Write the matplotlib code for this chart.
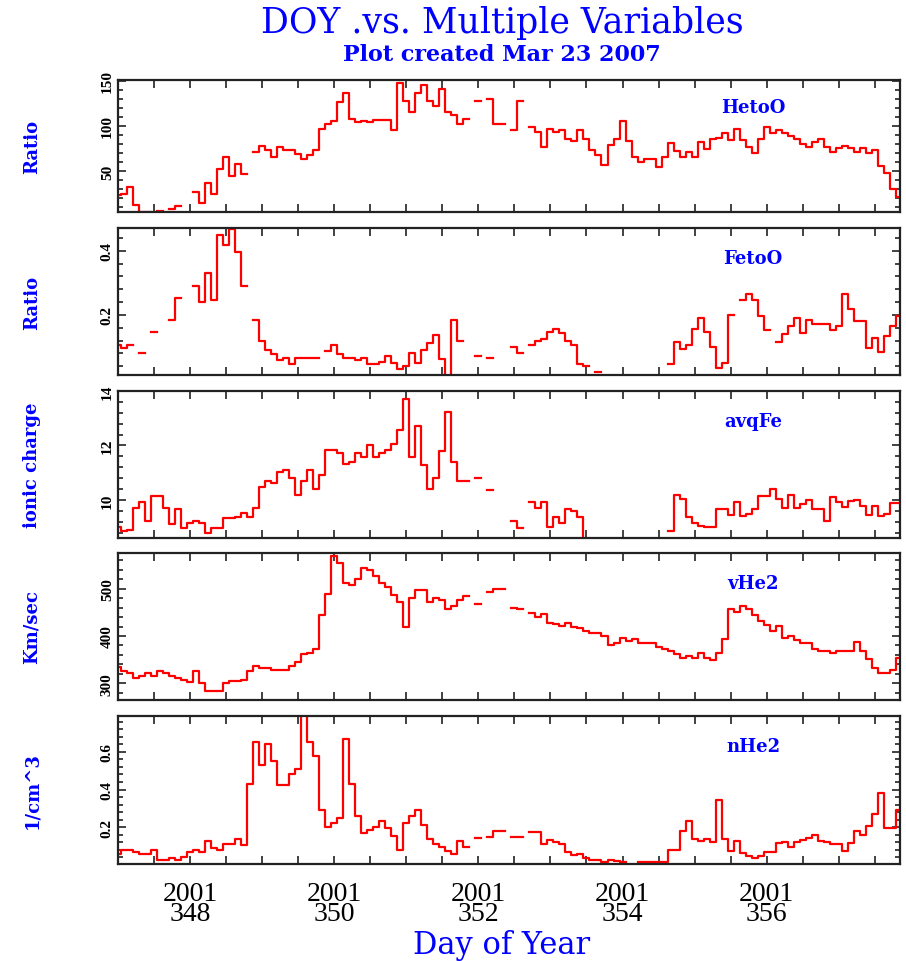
import numpy as np
import matplotlib.pyplot as plt
from matplotlib.ticker import MultipleLocator, FixedLocator

nan = np.nan

# 2-hour averages starting at DOY 347.0 (2001)
doy = 347.0 + np.arange(131) / 12.0

heto_o = [23, 25, 32, 12, 5, 4, nan, 6, nan, 8, 11, nan, nan, 27, 14, 37, 25, 52, 66, 45,
          58, 47, nan, 71, 78, 73, 66, 77, 73, 73, 69, 63, 68, 73, 97, 102, 105, 127, 137, 108,
          104, 106, 104, 107, 107, 107, 96, 148, 128, 116, 137, 145, 128, 122, 141, 116, 112, 102, 108, nan,
          128, nan, 130, 102, 102, nan, 95, 128, nan, 99, 93, 77, 97, 93, 95, 85, 83, 95, 85, 73,
          68, 57, 79, 85, 106, 83, 65, 60, 63, 63, 54, 65, 81, 72, 66, 71, 66, 82, 74, 86,
          87, 92, 84, 97, 84, 77, 70, 86, 99, 92, 95, 92, 89, 86, 80, 77, 82, 86, 77, 71,
          76, 78, 76, 71, 76, 70, 73, 55, 48, 30, 21]

feto_o = [0.105, 0.098, 0.105, nan, 0.082, nan, 0.147, nan, nan, 0.183, 0.254, nan, nan, 0.29, 0.24,
          0.332, 0.247, 0.45, 0.418, 0.468, 0.395, 0.29, nan, 0.183, 0.12, 0.09, 0.077, 0.058, 0.067, 0.046,
          0.067, 0.067, 0.067, 0.067, nan, 0.087, 0.105, 0.077, 0.065, 0.065, 0.06, 0.067, 0.048, 0.048, 0.053,
          0.072, 0.051, 0.03, 0.04, 0.082, 0.051, 0.09, 0.112, 0.137, 0.062, 0.0, 0.183, 0.12, nan, nan,
          0.072, nan, 0.066, nan, nan, nan, 0.1, 0.082, nan, 0.105, 0.117, 0.124, 0.147, 0.155, 0.142,
          0.119, 0.105, 0.046, 0.04, nan, 0.023, nan, nan, nan, nan, nan, nan, nan, nan, nan,
          nan, nan, 0.046, 0.116, 0.093, 0.105, 0.157, 0.189, 0.147, 0.1, 0.035, 0.051, 0.199, nan, 0.247,
          0.265, 0.247, 0.197, 0.153, nan, 0.116, 0.14, 0.166, 0.189, 0.145, 0.183, 0.171, 0.171, 0.171, 0.152,
          0.166, 0.265, 0.218, 0.181, 0.181, 0.098, 0.129, 0.085, 0.134, 0.166, 0.197]

avq_fe = [9.0, 8.85, 8.9, 9.72, 9.93, 9.23, 10.15, 10.15, 9.72, 9.13, 9.66, 8.96, 9.15, 9.23, 9.15,
          8.8, 8.96, 8.96, 9.32, 9.32, 9.38, 9.51, 9.38, 9.72, 10.48, 10.7, 10.61, 11.04, 11.1, 10.82,
          10.18, 10.7, 11.1, 10.39, 10.9, 11.85, 11.85, 11.73, 11.3, 11.39, 11.73, 11.59, 12.01, 11.57, 11.71,
          11.85, 12.07, 12.56, 13.72, 11.57, 12.71, 11.28, 10.39, 10.82, 11.79, 13.23, 11.39, 10.7, 10.7, nan,
          10.82, nan, 10.35, nan, nan, nan, 9.23, 8.96, nan, 9.93, 9.7, 9.93, 9.02, 9.38, 9.15,
          9.66, 9.6, 9.38, 8.55, nan, nan, nan, nan, nan, nan, nan, nan, nan, nan, nan,
          nan, nan, 8.87, 10.18, 10.02, 9.38, 9.15, 9.05, 8.99, 8.99, 9.68, 9.68, 9.44, 9.93, 9.41,
          9.5, 9.66, 10.15, 10.15, 10.39, 10.02, 9.72, 10.17, 9.72, 9.84, 10.0, 9.66, 9.66, 9.23, 10.12,
          9.94, 9.74, 9.96, 10.0, 9.78, 9.44, 9.78, 9.39, 9.5, 9.87, 9.87]

v_he2 = [334, 326, 321, 312, 316, 321, 316, 326, 321, 316, 312, 308, 303, 326, 300, 285, 285, 285, 300, 306,
         306, 308, 326, 336, 333, 333, 329, 329, 329, 336, 346, 361, 365, 372, 445, 488, 568, 553, 512, 507,
         521, 544, 540, 527, 512, 504, 486, 471, 419, 480, 496, 496, 472, 480, 475, 456, 463, 475, 484, nan,
         468, nan, 492, 500, 500, nan, 460, 456, nan, 449, 440, 447, 428, 425, 421, 428, 419, 416, 411, 407,
         407, 400, 381, 386, 396, 389, 393, 386, 386, 386, 376, 372, 368, 361, 353, 358, 353, 365, 353, 349,
         365, 393, 456, 451, 464, 456, 445, 432, 424, 411, 421, 395, 400, 391, 386, 386, 372, 368, 368, 365,
         368, 368, 368, 388, 369, 351, 332, 321, 321, 329, 353]

n_he2 = [0.058, 0.079, 0.079, 0.07, 0.058, 0.058, 0.079, 0.028, 0.028, 0.036, 0.028, 0.04, 0.07, 0.079, 0.07,
         0.129, 0.09, 0.079, 0.111, 0.111, 0.138, 0.108, 0.431, 0.65, 0.532, 0.641, 0.552, 0.422, 0.422, 0.481,
         0.511, 0.85, 0.65, 0.577, 0.289, 0.2, 0.221, 0.25, 0.666, 0.431, 0.262, 0.168, 0.186, 0.2, 0.232,
         0.196, 0.156, 0.079, 0.221, 0.262, 0.292, 0.214, 0.138, 0.111, 0.097, 0.072, 0.058, 0.129, 0.097, nan,
         0.141, nan, 0.15, 0.179, 0.179, nan, 0.15, 0.15, nan, 0.173, 0.173, 0.11, 0.132, 0.123, 0.111,
         0.07, 0.054, 0.058, 0.036, 0.026, 0.026, 0.013, 0.026, 0.022, 0.013, nan, nan, 0.017, 0.017, 0.013,
         0.013, 0.013, 0.079, 0.079, 0.179, 0.232, 0.138, 0.125, 0.138, 0.12, 0.342, 0.138, 0.076, 0.125, 0.063,
         0.049, 0.036, 0.049, 0.07, 0.07, 0.115, 0.123, 0.097, 0.123, 0.132, 0.141, 0.159, 0.129, 0.12, 0.111,
         0.111, 0.076, 0.116, 0.182, 0.161, 0.209, 0.271, 0.381, 0.196, 0.196, 0.292]

names = ["HetoO", "FetoO", "avqFe", "vHe2", "nHe2"]
units = ["Ratio", "Ratio", "ionic charge", "Km/sec", "1/cm^3"]
series = [heto_o, feto_o, avq_fe, v_he2, n_he2]
ylims = [(4.5, 151), (0.0125, 0.471), (8.6, 14.0), (265, 575), (0.005, 0.79)]
yticks = [[50, 100, 150], [0.2, 0.4], [10, 12, 14], [300, 400, 500], [0.2, 0.4, 0.6]]
ytick_labels = [["50", "100", "150"], ["0.2", "0.4"], ["10", "12", "14"],
                ["300", "400", "500"], ["0.2", "0.4", "0.6"]]
yminor = [10, 0.04, 0.4, 20, 0.04]
day_ticks = [348, 350, 352, 354, 356]

W, H = 906, 962
panel_px = [(81, 213), (229, 376), (392, 539), (554, 701), (717, 865)]
x0, x1 = 118, 900

blue = "#0000ff"
red = "#ff0000"
frame = "#222222"

fig = plt.figure(figsize=(W / 100, H / 100), dpi=100)

for i, (top, bot) in enumerate(panel_px):
    ax = fig.add_axes([x0 / W, 1 - bot / H, (x1 - x0) / W, (bot - top) / H])
    ax.step(doy, series[i], where="mid", color=red, lw=1.6)
    ax.set_xlim(347.0, 357.85)
    ax.set_ylim(*ylims[i])

    ax.xaxis.set_major_locator(FixedLocator(day_ticks))
    ax.xaxis.set_minor_locator(MultipleLocator(0.5))
    ax.yaxis.set_major_locator(FixedLocator(yticks[i]))
    ax.yaxis.set_minor_locator(MultipleLocator(yminor[i]))
    ax.set_yticklabels(ytick_labels[i], rotation=90, va="center",
                       family="Liberation Serif", fontsize=11, fontweight="bold")

    ax.tick_params(which="both", direction="in", top=True, right=True, color=frame, width=1.2)
    ax.tick_params(axis="x", which="both", length=6)
    ax.tick_params(axis="y", which="major", length=6, pad=3)
    ax.tick_params(axis="y", which="minor", length=3.5)
    for sp in ax.spines.values():
        sp.set_linewidth(1.6)
        sp.set_color(frame)

    ax.set_ylabel(units[i], color=blue, family="DejaVu Serif", fontweight="bold",
                  fontsize=13, va="center")
    ax.yaxis.set_label_coords(-0.11, 0.5)
    ax.text(0.812, 0.795, names[i], transform=ax.transAxes, ha="center", va="center",
            color=blue, family="DejaVu Serif", fontweight="bold", fontsize=13)

    if i < len(panel_px) - 1:
        ax.set_xticklabels([])
    else:
        ax.set_xticklabels([f"2001\n{d}" for d in day_ticks], family="Liberation Serif",
                           fontsize=20, linespacing=0.75)
        ax.tick_params(axis="x", which="major", pad=12)

fig.text(502 / W, 1 - 23 / H, "DOY .vs. Multiple Variables", ha="center", va="center",
         color=blue, family="DejaVu Serif", fontsize=25)
fig.text(502 / W, 1 - 55 / H, "Plot created Mar 23 2007", ha="center", va="center",
         color=blue, family="DejaVu Serif", fontweight="bold", fontsize=16)
fig.text(502 / W, 1 - 946 / H, "Day of Year", ha="center", va="center",
         color=blue, family="DejaVu Serif", fontsize=22)

fig.savefig("out.png", dpi=100)
